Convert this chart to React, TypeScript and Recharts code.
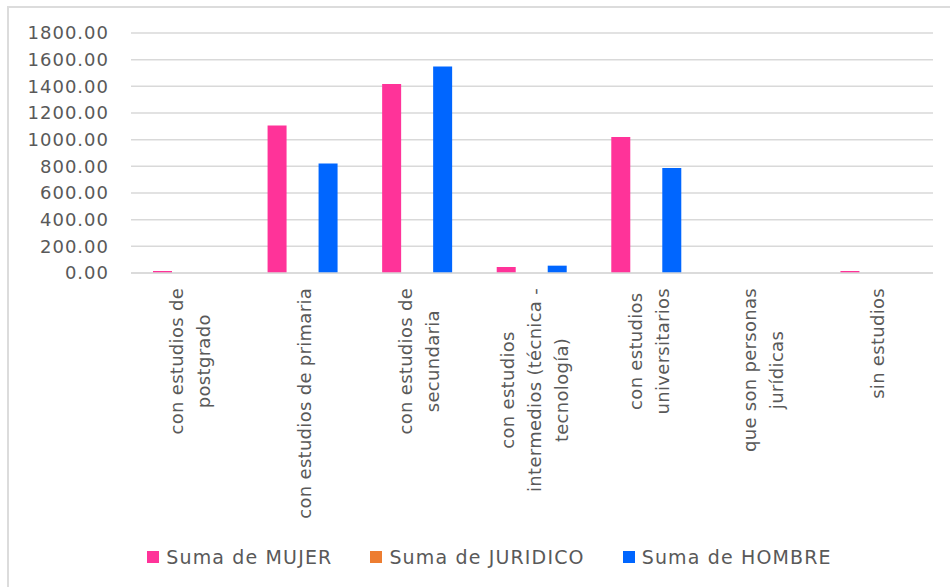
import React from 'react';
import { BarChart, Bar, XAxis, YAxis, CartesianGrid, Legend } from 'recharts';

const categories: string[] = [
  'con estudios de\npostgrado',
  'con estudios de primaria',
  'con estudios de\nsecundaria',
  'con estudios\nintermedios (técnica -\ntecnología)',
  'con estudios\nuniversitarios',
  'que son personas\njurídicas',
  'sin estudios',
];

const mujer: number[] = [15, 1107, 1418, 45, 1020, 0, 15];
const juridico: number[] = [0, 0, 0, 0, 0, 0, 0];
const hombre: number[] = [0, 822, 1548, 55, 788, 0, 0];

const yTicks: number[] = [0, 200, 400, 600, 800, 1000, 1200, 1400, 1600, 1800];

const seriesNames = ['Suma de MUJER', 'Suma de JURIDICO', 'Suma de HOMBRE'];
const seriesKeys = ['mujer', 'juridico', 'hombre'];
const seriesColors = ['#FF3399', '#ED7D31', '#0066FF'];

const data = categories.map((c, i) => ({
  cat: c,
  mujer: mujer[i],
  juridico: juridico[i],
  hombre: hombre[i],
}));

const FONT = '"DejaVu Sans", sans-serif';
const TEXT = '#595959';

let ctx: CanvasRenderingContext2D | null = null;
const measure = (s: string, font: string) => {
  if (!ctx && typeof document !== 'undefined') {
    ctx = document.createElement('canvas').getContext('2d');
  }
  if (!ctx) return s.length * 10;
  ctx.font = font;
  return ctx.measureText(s).width;
};

const XTick = (props: any) => {
  const { x, y, payload } = props;
  const lines = String(payload.value).split('\n');
  const ls = 0.3;
  const W = Math.max(...lines.map((l) => measure(l, '18px "DejaVu Sans"') + l.length * ls));
  const lh = 27;
  return (
    <g transform={`translate(${x + 2},${y}) rotate(-90)`}>
      {lines.map((l, i) => (
        <text
          key={i}
          x={-W / 2}
          y={(i - (lines.length - 1) / 2) * lh}
          textAnchor="middle"
          dominantBaseline="central"
          fontFamily={FONT}
          fontSize={18}
          letterSpacing={ls}
          fill={TEXT}
        >
          {l}
        </text>
      ))}
    </g>
  );
};

const LegendContent = () => (
  <div
    style={{
      display: 'flex',
      justifyContent: 'center',
      alignItems: 'center',
      height: 30,
      paddingLeft: 29,
      fontFamily: FONT,
      fontSize: 19,
      letterSpacing: 1.15,
      color: TEXT,
    }}
  >
    {seriesNames.map((n, i) => (
      <div key={n} style={{ display: 'flex', alignItems: 'center', marginRight: i < 2 ? 38 : 0 }}>
        <span style={{ width: 12, height: 12, background: seriesColors[i], marginRight: 7, display: 'inline-block' }} />
        <span>{n}</span>
      </div>
    ))}
  </div>
);

export default function App() {
  return (
    <div style={{ position: 'absolute', left: 0, top: 0, width: 950, height: 587, background: '#fff' }}>
      <div
        style={{
          position: 'absolute',
          left: 7,
          top: 6,
          width: 943,
          height: 581,
          borderLeft: '2.5px solid #dcdcdc',
          borderTop: '2.5px solid #dcdcdc',
          boxSizing: 'border-box',
        }}
      />
      <div style={{ position: 'absolute', left: 0, top: 0 }}>
        <BarChart
          width={950}
          height={587}
          data={data}
          margin={{ top: 33, right: 17, bottom: 15, left: 0 }}
          barSize={19}
          barGap={6.5}
        >
          <CartesianGrid horizontal vertical={false} stroke="#d9d9d9" strokeWidth={1.5} />
          <XAxis
            dataKey="cat"
            interval={0}
            height={269}
            tickLine={false}
            tickSize={0}
            tickMargin={15}
            axisLine={{ stroke: '#d9d9d9', strokeWidth: 1.5 }}
            tick={<XTick />}
          />
          <YAxis
            width={131}
            domain={[0, 1800]}
            ticks={yTicks}
            interval={0}
            tickLine={false}
            axisLine={false}
            tickSize={0}
            tickMargin={22}
            tickFormatter={(v: number) => v.toFixed(2)}
            tick={{ fontFamily: FONT, fontSize: 18, fill: TEXT, letterSpacing: 1 }}
          />
          <Legend
            verticalAlign="bottom"
            height={30}
            wrapperStyle={{ left: 0, width: 950 }}
            content={<LegendContent />}
          />
          {seriesKeys.map((k, i) => (
            <Bar key={k} dataKey={k} name={seriesNames[i]} fill={seriesColors[i]} isAnimationActive={false} />
          ))}
        </BarChart>
      </div>
    </div>
  );
}
